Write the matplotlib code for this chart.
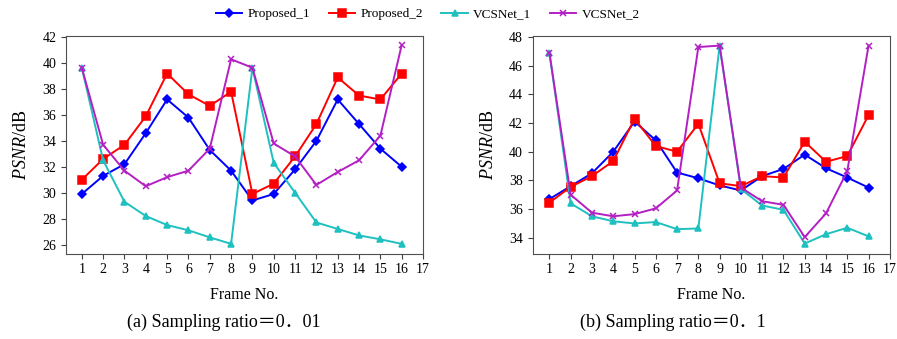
import numpy as np
import matplotlib.pyplot as plt

plt.rcParams['font.family'] = ['Liberation Serif', 'Noto Sans CJK SC', 'DejaVu Sans']
plt.rcParams['mathtext.fontset'] = 'custom'
plt.rcParams['mathtext.it'] = 'Liberation Serif:italic'
plt.rcParams['mathtext.rm'] = 'Liberation Serif'

frames = list(range(1, 17))
names = ['Proposed_1', 'Proposed_2', 'VCSNet_1', 'VCSNet_2']

# (a) sampling ratio 0.01
a_prop1 = [29.9, 31.3, 32.2, 34.6, 37.2, 35.8, 33.3, 31.7, 29.4, 29.9, 31.8, 34.0, 37.2, 35.3, 33.4, 32.0]
a_prop2 = [31.0, 32.6, 33.7, 35.9, 39.2, 37.6, 36.7, 37.8, 29.9, 30.7, 32.8, 35.3, 38.9, 37.5, 37.2, 39.2]
a_vcs1 = [39.65, 32.5, 29.3, 28.2, 27.5, 27.1, 26.55, 26.05, 39.65, 32.3, 30.0, 27.7, 27.2, 26.7, 26.4, 26.05]
a_vcs2 = [39.65, 33.7, 31.7, 30.5, 31.2, 31.7, 33.4, 40.3, 39.65, 33.8, 32.8, 30.6, 31.6, 32.5, 34.4, 41.4]

# (b) sampling ratio 0.1
b_prop1 = [36.7, 37.6, 38.5, 40.0, 42.1, 40.8, 38.55, 38.15, 37.65, 37.3, 38.3, 38.8, 39.8, 38.85, 38.2, 37.5]
b_prop2 = [36.45, 37.55, 38.3, 39.35, 42.3, 40.4, 40.0, 41.95, 37.8, 37.6, 38.3, 38.2, 40.7, 39.3, 39.7, 42.55]
b_vcs1 = [46.9, 36.4, 35.5, 35.15, 35.0, 35.1, 34.6, 34.65, 47.4, 37.4, 36.25, 35.95, 33.6, 34.25, 34.7, 34.1]
b_vcs2 = [46.9, 37.0, 35.75, 35.5, 35.65, 36.05, 37.3, 47.3, 47.4, 37.5, 36.55, 36.3, 34.05, 35.7, 38.65, 47.4]

colors = ['#0000ff', '#ff0000', '#1fc0c0', '#b31fc2']
markers = ['D', 's', '^', 'x']
msizes = [4.5, 5.5, 4.5, 5]

fig = plt.figure(figsize=(8.97, 3.39), dpi=100)
ax1 = fig.add_axes([0.0736, 0.252, 0.398, 0.643])
ax2 = fig.add_axes([0.594, 0.252, 0.398, 0.641])

def draw(ax, series, ylim, yticks):
    lines = []
    for s, c, m, ms, n in zip(series, colors, markers, msizes, names):
        ln, = ax.plot(frames, s, color=c, marker=m, markersize=ms, lw=1.4,
                      markeredgewidth=1.1, label=n)
        lines.append(ln)
    ax.set_xlim(0.26, 17)
    ax.set_ylim(*ylim)
    ax.set_xticks(range(1, 18))
    ax.set_yticks(yticks)
    ax.tick_params(labelsize=10, color='#404040', length=3.5)
    for sp in ax.spines.values():
        sp.set_color('#505050')
    ax.set_xlabel('Frame No.', fontsize=11.5, labelpad=8)
    ax.set_ylabel(r'$\mathit{PSNR}$/dB', fontsize=13, labelpad=9)
    return lines

lines = draw(ax1, [a_prop1, a_prop2, a_vcs1, a_vcs2], (25.3, 42.13), range(26, 43, 2))
draw(ax2, [b_prop1, b_prop2, b_vcs1, b_vcs2], (32.9, 48.05), range(34, 49, 2))
ax2.set_xlim(0.22, 17)

fig.legend(handles=lines, loc='center', bbox_to_anchor=(0.477, 0.958), ncol=4,
           frameon=False, fontsize=9.5, handlelength=2.0, columnspacing=1.4,
           handletextpad=0.4)

fig.text(0.249, 0.035, '(a) Sampling ratio＝0．01', ha='center', fontsize=13)
fig.text(0.75, 0.035, '(b) Sampling ratio＝0．1', ha='center', fontsize=13)

fig.savefig('out.png', dpi=100)
